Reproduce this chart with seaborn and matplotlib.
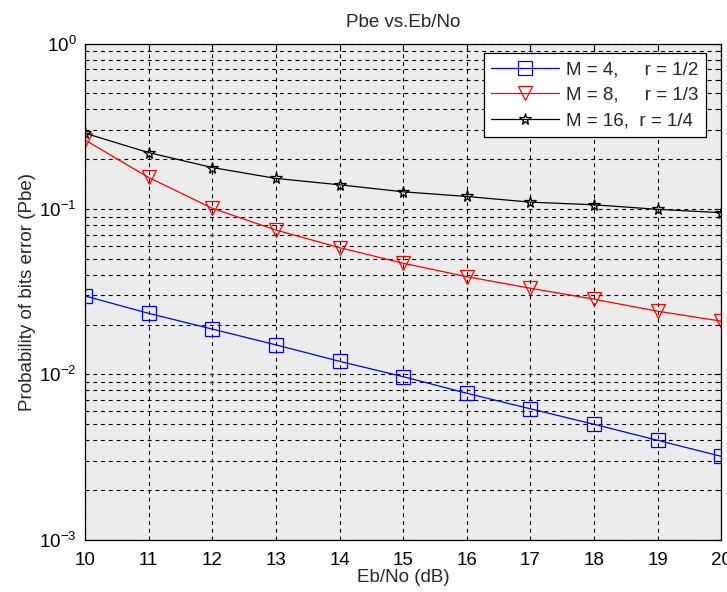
import matplotlib
matplotlib.use("Agg")
import matplotlib.pyplot as plt
import numpy as np
import pandas as pd
import seaborn as sns
from matplotlib.ticker import LogLocator, NullLocator, NullFormatter

ebno = [10, 11, 12, 13, 14, 15, 16, 17, 18, 19, 20]
pbe_m4 = [0.0298, 0.0234, 0.0188, 0.0151, 0.0120, 0.0097, 0.0077, 0.0062, 0.0050, 0.0040, 0.0032]
pbe_m8 = [0.261, 0.155, 0.101, 0.0746, 0.0584, 0.0470, 0.0390, 0.0332, 0.0285, 0.0241, 0.0210]
pbe_m16 = [0.287, 0.219, 0.178, 0.153, 0.140, 0.127, 0.119, 0.110, 0.106, 0.0995, 0.095]
labels = ["M = 4,     r = 1/2", "M = 8,     r = 1/3", "M = 16,  r = 1/4"]

FS = 13.5

sns.set_style("white")
plt.rcParams["font.family"] = ["Liberation Sans", "DejaVu Sans"]
plt.rcParams["font.size"] = FS
plt.rcParams["mathtext.fontset"] = "custom"
plt.rcParams["mathtext.rm"] = "Liberation Sans"
plt.rcParams["mathtext.it"] = "Liberation Sans"

fig = plt.figure(figsize=(7.27, 5.92), dpi=100)
ax = fig.add_axes([0.117, 0.088, 0.875, 0.8385])
ax.set_facecolor("#ececec")

series = [
    (pbe_m4, "blue", "s", 9.5),
    (pbe_m8, "red", "v", 10),
    (pbe_m16, "black", "*", 8.5),
]
for (vals, color, marker, ms), lab in zip(series, labels):
    df = pd.DataFrame({"Eb/No": ebno, "Pbe": vals})
    sns.lineplot(
        data=df, x="Eb/No", y="Pbe", ax=ax, color=color, marker=marker,
        markersize=ms, markerfacecolor="none",
        markeredgecolor=color, markeredgewidth=0.9, linewidth=0.9, label=lab,
    )

ax.set_yscale("log")
ax.set_xlim(10, 20)
ax.set_ylim(1e-3, 1e0)
ax.set_xticks(ebno)
ax.xaxis.set_minor_locator(NullLocator())
ax.yaxis.set_major_locator(LogLocator(base=10, numticks=10))
ax.yaxis.set_minor_locator(LogLocator(base=10, subs=np.arange(2, 10), numticks=20))
ax.yaxis.set_minor_formatter(NullFormatter())

grid_kw = dict(color="black", linestyle=(0, (3.5, 3.5)), linewidth=0.8)
ax.grid(True, which="major", axis="both", **grid_kw)
ax.grid(True, which="minor", axis="y", **grid_kw)

ax.tick_params(which="both", direction="in", top=True, right=True,
               colors="black", labelsize=FS)
ax.tick_params(which="major", length=5, width=0.8)
ax.tick_params(which="minor", length=3, width=0.8)
ax.tick_params(axis="x", which="major", pad=9)
ax.tick_params(axis="y", which="major", pad=6)
for s in ax.spines.values():
    s.set_color("black")
    s.set_linewidth(0.9)

ax.set_xlabel("Eb/No (dB)", fontsize=FS, labelpad=0)
ax.set_ylabel("Probability of bits error (Pbe)", fontsize=FS, labelpad=2)
ax.set_title("Pbe vs.Eb/No", fontsize=FS, pad=12)

leg = ax.legend(loc="upper right", bbox_to_anchor=(0.976, 0.98), borderaxespad=0,
                fontsize=FS, handlelength=3.6, frameon=True, fancybox=False,
                framealpha=1, edgecolor="black", borderpad=0.4, labelspacing=0.45,
                handletextpad=0.4)
leg.get_frame().set_linewidth(0.9)

fig.savefig("out.png", dpi=100)
